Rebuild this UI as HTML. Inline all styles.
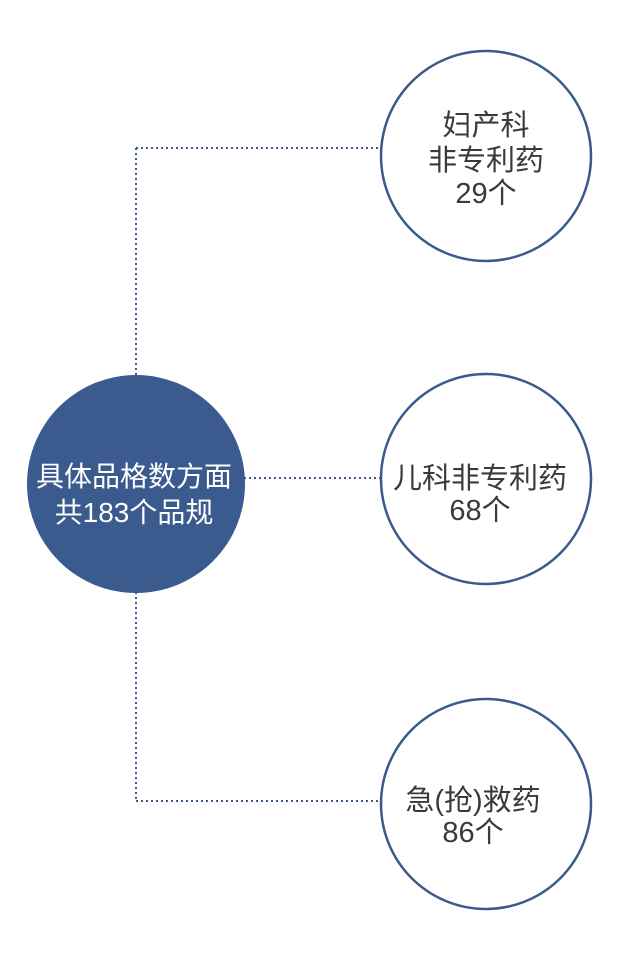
<!DOCTYPE html>
<html><head><meta charset="utf-8"><style>
body{margin:0;background:#fff;}
text{font-family:"Liberation Sans","Noto Sans CJK SC",sans-serif;}
</style></head><body>
<svg width="640" height="971" viewBox="0 0 640 971" xmlns="http://www.w3.org/2000/svg">
<g stroke="#3b5a8c" stroke-width="2" stroke-dasharray="2,3" fill="none">
<line x1="136" y1="148" x2="136" y2="376"/>
<line x1="136" y1="148" x2="381" y2="148"/>
<line x1="244" y1="478" x2="381" y2="478"/>
<line x1="136" y1="592" x2="136" y2="801"/>
<line x1="136" y1="801" x2="381" y2="801"/>
</g>
<circle cx="136" cy="484" r="109" fill="#3b5a8e"/>
<g fill="#fff" stroke="#3b5a8c" stroke-width="2.5">
<circle cx="486" cy="156" r="105"/>
<circle cx="486" cy="479" r="105"/>
<circle cx="486" cy="804" r="105"/>
</g>
<g fill="#fff" font-size="28" text-anchor="middle">
<text x="134" y="486">具体品格数方面</text>
<text x="134" y="522">共183个品规</text>
</g>
<g fill="#3a3a3a" font-size="29" text-anchor="middle">
<text x="486" y="135">妇产科</text>
<text x="486" y="170">非专利药</text>
<text x="486" y="203">29个</text>
<text x="480" y="488">儿科非专利药</text>
<text x="480" y="520">68个</text>
<text x="473" y="810">急(抢)救药</text>
<text x="473" y="842">86个</text>
</g>
</svg>
</body></html>
